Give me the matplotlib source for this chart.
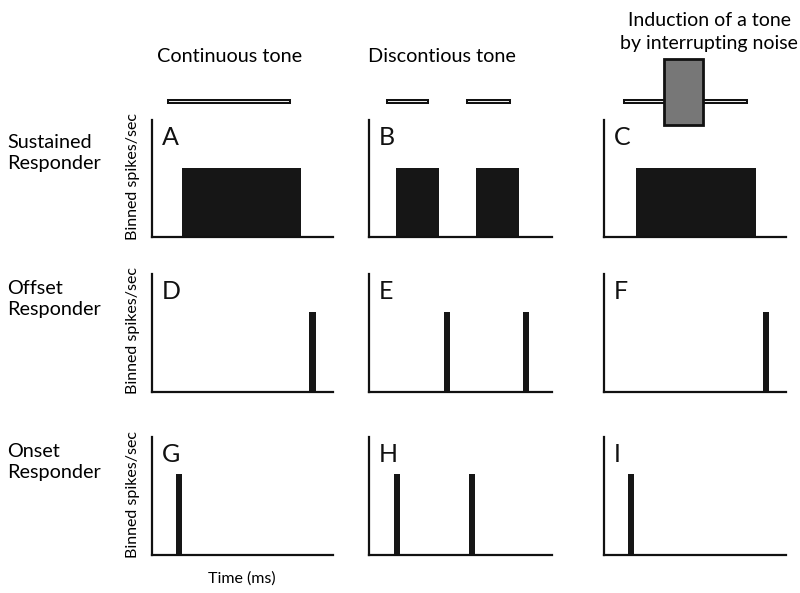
import matplotlib
matplotlib.use("Agg")
import matplotlib.pyplot as plt
from matplotlib.patches import Rectangle

plt.rcParams['font.family'] = ['Lato', 'DejaVu Sans']

# ---------------- data ----------------
time_max = 600
rate_max = 100
column_titles = ["Continuous tone", "Discontious tone", "Induction of a tone\nby interrupting noise"]
row_titles = ["Sustained\nResponder", "Offset\nResponder", "Onset\nResponder"]
panel_letters = [["A", "B", "C"], ["D", "E", "F"], ["G", "H", "I"]]
ylabel = "Binned spikes/sec"
xlabel = "Time (ms)"

# sustained responses: (start, end) of firing per column
sustained_start = [[100], [88, 350], [105]]
sustained_end = [[495], [230, 492], [500]]
sustained_rate = 59
# offset / onset spikes: times per column
offset_times = [[533], [256, 515], [534]]
offset_rate = 68
onset_times = [[89], [92, 338], [89]]
onset_rate = 69
spike_width = 20
# stimuli
tone_start = [[54], [59, 321], [66]]
tone_end = [[458], [194, 462], [471]]
noise_start = 198
noise_end = 326

# ---------------- layout ----------------
W, H = 800, 593
fig = plt.figure(figsize=(W / 100, H / 100), dpi=100)

col_px = [(151.7, 181), (369, 183), (604, 182)]   # left, width
row_px = [(120, 237), (274, 392), (437, 555)]     # top, bottom
row_title_y = [153, 299, 462]

bar_color = '#161616'
axes = []
for r, (top, bot) in enumerate(row_px):
    row = []
    for c, (left, width) in enumerate(col_px):
        ax = fig.add_axes([left / W, 1 - bot / H, width / W, (bot - top) / H])
        ax.set_xlim(0, time_max)
        ax.set_ylim(0, rate_max)
        for s in ['top', 'right']:
            ax.spines[s].set_visible(False)
        for s in ['left', 'bottom']:
            ax.spines[s].set_linewidth(1.6)
            ax.spines[s].set_color('#111111')
        ax.set_xticks([])
        ax.set_yticks([])
        ax.patch.set_alpha(0)
        ax.text(0.055, 0.95, panel_letters[r][c], transform=ax.transAxes,
                fontsize=18, va='top', ha='left', color='#111111')
        row.append(ax)
    axes.append(row)

# sustained row
for c in range(3):
    ax = axes[0][c]
    for s, e in zip(sustained_start[c], sustained_end[c]):
        ax.bar(s, sustained_rate, width=e - s, align='edge', color=bar_color, linewidth=0)
# offset row
for c in range(3):
    ax = axes[1][c]
    ax.bar(offset_times[c], [offset_rate] * len(offset_times[c]), width=spike_width,
           color=bar_color, linewidth=0)
# onset row
for c in range(3):
    ax = axes[2][c]
    ax.bar(onset_times[c], [onset_rate] * len(onset_times[c]), width=spike_width,
           color=bar_color, linewidth=0)

# stimuli above the top row
tone_y = 116
tone_h = 3.0
for c in range(3):
    ax = axes[0][c]
    for s, e in zip(tone_start[c], tone_end[c]):
        ax.add_patch(Rectangle((s, tone_y - tone_h / 2), e - s, tone_h, facecolor='#f0f0f0',
                               edgecolor='#111111', linewidth=1.45, clip_on=False, zorder=3))
axc = axes[0][2]
axc.add_patch(Rectangle((noise_start, 95.7), noise_end - noise_start, 152 - 95.7,
                        facecolor='#777777', edgecolor='#111111', linewidth=2.0,
                        clip_on=False, zorder=4))

def px(x, y):
    return x / W, 1 - y / H

# column titles
fig.text(*px(230, 57), column_titles[0], ha='center', va='center', fontsize=14.3)
fig.text(*px(442, 57), column_titles[1], ha='center', va='center', fontsize=14.3)
fig.text(*px(709, 32), column_titles[2], ha='center', va='center', fontsize=14.0,
         linespacing=1.45)

# row titles and y labels
for r, (top, bot) in enumerate(row_px):
    fig.text(*px(7, row_title_y[r]), row_titles[r], ha='left', va='center', fontsize=14.3,
             linespacing=1.35)
    fig.text(*px(133.5, (top + bot) / 2 - 2), ylabel, rotation=90, ha='center',
             va='center', fontsize=11.5)

fig.text(*px(242, 579), xlabel, ha='center', va='center', fontsize=11.5)

fig.savefig('out.png', dpi=100)
